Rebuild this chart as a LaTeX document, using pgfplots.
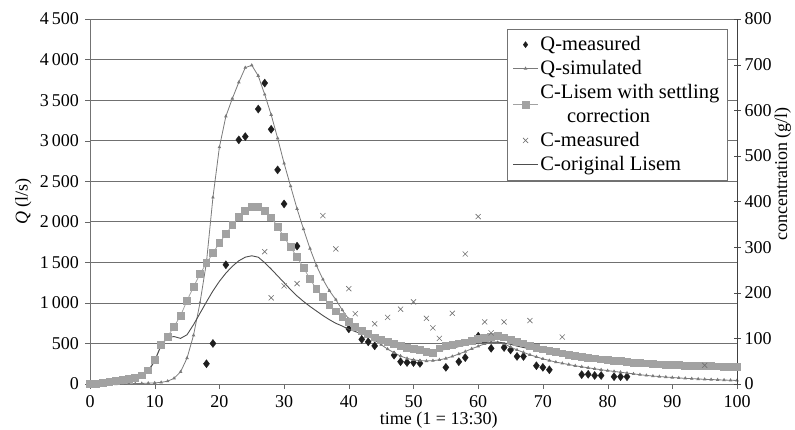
\documentclass[border=0pt]{standalone}
\usepackage{fontspec}
\setmainfont{Liberation Serif}
\usepackage{pgfplots}
\pgfplotsset{compat=1.18}
\definecolor{gridc}{HTML}{707070}
\definecolor{qmeas}{HTML}{1E1E1E}
\definecolor{qsim}{HTML}{7A7A7A}
\definecolor{clisem}{HTML}{A2A2A2}
\definecolor{cmeas}{HTML}{707070}
\definecolor{corig}{HTML}{4E4E4E}

% Q measured (l/s)
\pgfplotstableread{
x y
18 250
19 500
21 1470
23 3010
24 3050
26 3390
27 3710
28 3140
29 2640
30 2220
32 1700
40 680
42 550
43 520
44 470
47 355
48 275
49 265
50 265
51 255
55 205
57 275
58 325
60 590
62 440
64 450
65 420
66 340
67 340
69 225
70 205
71 175
76 115
77 120
78 105
79 105
81 90
82 90
83 90
}\qmeasured

% Q simulated (l/s)
\pgfplotstableread{
x y
0 0
1 0
2 0
3 0
4 0
5 2
6 3
7 5
8 7
9 10
10 14
11 20
12 35
13 70
14 150
15 320
16 600
17 1000
18 1500
19 2300
20 2920
21 3300
22 3520
23 3720
24 3900
25 3930
26 3800
27 3570
28 3320
29 3030
30 2720
31 2440
32 2160
33 1910
34 1670
35 1460
36 1290
37 1150
38 1040
39 910
40 800
41 720
42 650
43 590
44 540
45 485
46 430
47 385
48 345
49 315
50 298
51 288
52 284
53 288
54 298
55 315
56 340
57 370
58 400
59 435
60 465
61 495
62 512
63 512
64 495
65 455
66 420
67 390
68 360
69 335
70 310
71 290
72 270
73 255
74 240
75 225
76 212
77 200
78 188
79 176
80 165
81 155
82 145
83 135
84 125
85 115
86 106
87 98
88 92
89 86
90 80
91 75
92 70
93 66
94 62
95 58
96 55
97 52
98 49
99 46
100 44
}\qsimulated

% C Lisem with settling correction (g/l)
\pgfplotstableread{
x y
0 0
1 1
2 2
3 4
4 7
5 9
6 11
7 14
8 19
9 30
10 52
11 86
12 104
13 126
14 150
15 183
16 213
17 241
18 265
19 287
20 309
21 329
22 348
23 366
24 380
25 388
26 388
27 379
28 365
29 345
30 322
31 300
32 278
33 255
34 230
35 208
36 191
37 174
38 159
39 147
40 136
41 125
42 116
43 109
44 102
45 97
46 92
47 88
48 84
49 80
50 77
51 74
52 71
53 69
54 78
55 83
56 86
57 89
58 91
59 94
60 98
61 101
62 104
63 105
64 102
65 97
66 93
67 89
68 84
69 80
70 76
71 73
72 70
73 67
74 64
75 62
76 60
77 58
78 56
79 54
80 52
81 51
82 50
83 48
84 47
85 46
86 45
87 44
88 43
89 42
90 41.5
91 41
92 40.5
93 40
94 39.5
95 39
96 39
97 38.5
98 38
99 38
100 37
}\clisem

% C measured (g/l)
\pgfplotstableread{
x y
27 290
28 189
30 215
32 220
36 369
38 296
40 209
41 154
44 132
46 146
48 164
50 180
52 144
53 123
54 100
56 155
58 285
60 367
61 136
62 112
64 136
68 139
73 103
95 41
}\cmeasured

% C original Lisem (g/l)
\pgfplotstableread{
x y
0 0
2 2
4 6
6 10
8 18
9 28
10 50
11 85
12 102
13 104
14 100
15 108
16 130
17 155
18 180
19 204
20 225
21 243
22 258
23 270
24 278
25 281
26 278
27 266
28 252
29 237
30 222
31 207
32 193
33 181
34 170
35 160
36 150
37 141
38 133
39 127
40 120
41 115
42 110
43 106
44 102
45 98
46 92
47 86
48 82
49 79
50 76
51 74
52 72
53 72
54 74
55 76
56 79
57 82
58 85
59 88
60 90
61 91
62 92
63 92
64 90
65 87
66 83
67 80
68 77
69 74
70 71
72 66
74 62
76 58
78 54
80 50
84 45
88 41
92 39
96 37
100 35
}\corig

\begin{document}
\fontsize{18}{21}\selectfont
\begin{tikzpicture}
\useasboundingbox (0,0) rectangle (795pt,429pt);
\pgfplotsset{
  common/.style={
    scale only axis, width=647pt, height=365pt,
    at={(90pt,45pt)}, anchor=south west,
    xmin=0, xmax=100,
    font=\fontsize{18}{21}\selectfont,
    tick label style={font=\fontsize{18}{21}\selectfont},
    label style={font=\fontsize{18}{21}\selectfont},
    /pgf/number format/assume math mode=true,
    /pgf/number format/1000 sep={\,},
    scaled ticks=false,
  },
}
\begin{axis}[common,
    ymin=0, ymax=4500,
    ytick={0,500,...,4500},
    xtick={0,10,...,100},
    axis x line*=bottom, axis y line*=left,
    axis line style={black!55},
    tick style={black!60},
    tick align=outside, major tick length=5pt,
    ymajorgrids, grid style={gridc, line width=0.7pt},
    xlabel={time (1 = 13:30)},
    ylabel={{\itshape Q} (l/s)},
    xlabel style={at={(axis description cs:0.539,-0.099)}, anchor=center},
    ylabel style={at={(axis description cs:-0.103,0.5)}, anchor=center},
]
\addplot[only marks, mark=diamond*, mark size=4pt, color=qmeas] table {\qmeasured};
\addplot[qsim, line width=0.8pt, mark=triangle*, mark size=1.3pt] table {\qsimulated};
\end{axis}
\begin{axis}[common,
    ymin=0, ymax=800,
    ytick={0,100,...,800},
    axis y line*=right, axis x line=none,
    axis line style={black!75},
    tick style={black!70},
    tick align=center, major tick length=7pt,
    yticklabel style={xshift=-2pt},
    ylabel={concentration (g/l)},
    ylabel style={at={(axis description cs:1.071,0.575)}, anchor=center},
    legend image code/.code={\draw[mark repeat=2, mark phase=2] plot coordinates {(0pt,0pt) (12.5pt,0pt) (25pt,0pt)};},
    legend style={at={(rel axis cs:0.9845,0.9726)}, anchor=north east,
      draw=black!55, fill=white, font=\fontsize{20.5}{24}\selectfont,
      cells={anchor=west, align=left}, row sep=3pt,
      inner xsep=5.5pt, inner ysep=5pt},
    legend cell align=left,
]
\addlegendimage{only marks, mark=diamond*, mark size=3pt, color=qmeas}
\addlegendentry{Q-measured}
\addlegendimage{qsim, line width=0.8pt, mark=triangle*, mark size=1.3pt}
\addlegendentry{Q-simulated}
\addplot[clisem, line width=0.8pt, mark=square*, mark size=3.4pt] table {\clisem};
\addlegendentry{C-Lisem with settling\\\hspace*{1.3em}correction}
\addplot[only marks, mark=x, mark size=3.6pt, color=cmeas, line width=0.6pt] table {\cmeasured};
\addlegendentry{C-measured}
\addplot[corig, line width=0.9pt] table {\corig};
\addlegendentry{C-original Lisem}
\end{axis}
\end{tikzpicture}
\end{document}
